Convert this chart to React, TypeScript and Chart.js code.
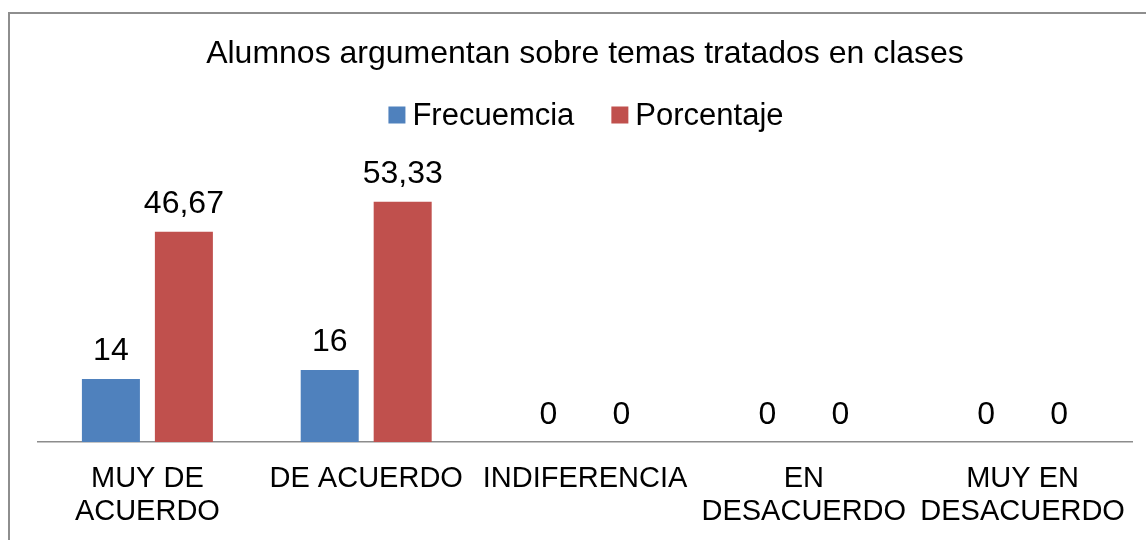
import React, { useEffect, useRef } from "react";
import { Chart, registerables } from "chart.js";

Chart.register(...registerables);

const TITLE = "Alumnos argumentan sobre temas tratados en clases";
const categories: (string | string[])[] = [
  ["MUY DE", "ACUERDO"],
  "DE ACUERDO",
  "INDIFERENCIA",
  ["EN", "DESACUERDO"],
  ["MUY EN", "DESACUERDO"],
];
const frecuencia = [14, 16, 0, 0, 0];
const porcentaje = [46.67, 53.33, 0, 0, 0];
const seriesNames = ["Frecuemcia", "Porcentaje"];
const seriesColors = ["#4F81BD", "#C0504D"];

const FONT = "'Liberation Sans', Arial, Helvetica, sans-serif";
const TICK_FS = 29;
const TITLE_FS = 32;
const LABEL_FS = 32;
const LEGEND_FS = 31;

const fmt = (v: number) => String(v).replace(".", ",");

const labelsPlugin = {
  id: "valueLabels",
  afterDatasetsDraw(chart: any) {
    const ctx = chart.ctx;
    ctx.save();
    ctx.font = `${LABEL_FS}px ${FONT}`;
    ctx.fillStyle = "#000";
    ctx.textAlign = "center";
    ctx.textBaseline = "alphabetic";
    chart.data.datasets.forEach((ds: any, di: number) => {
      const meta = chart.getDatasetMeta(di);
      meta.data.forEach((el: any, i: number) => {
        ctx.fillText(fmt(ds.data[i]), el.x, el.y - 18.5);
      });
    });
    ctx.restore();
  },
};

const legendPlugin = {
  id: "customLegend",
  afterDraw(chart: any) {
    const ctx = chart.ctx;
    ctx.save();
    ctx.font = `${LEGEND_FS}px ${FONT}`;
    const box = 17;
    const gapText = 7;
    const gapItem = 37;
    const items = chart.data.datasets.map((ds: any) => ({
      label: ds.label,
      color: ds.backgroundColor,
      w: ctx.measureText(ds.label).width,
    }));
    const total =
      items.reduce((s: number, it: any) => s + box + gapText + it.w, 0) +
      gapItem * (items.length - 1);
    const cx = 576;
    const cy = 101;
    let x = cx - total / 2;
    ctx.textBaseline = "middle";
    ctx.textAlign = "left";
    items.forEach((it: any) => {
      ctx.fillStyle = it.color;
      ctx.fillRect(x, cy - box / 2, box, box);
      x += box + gapText;
      ctx.fillStyle = "#000";
      ctx.fillText(it.label, x, cy + 1);
      x += it.w + gapItem;
    });
    ctx.restore();
  },
};

export default function App() {
  const ref = useRef<HTMLCanvasElement>(null);
  useEffect(() => {
    if (!ref.current) return;
    const chart = new Chart(ref.current, {
      type: "bar",
      data: {
        labels: categories,
        datasets: [
          {
            label: seriesNames[0],
            data: frecuencia,
            backgroundColor: seriesColors[0],
            categoryPercentage: 0.667,
            barPercentage: 0.795,
          },
          {
            label: seriesNames[1],
            data: porcentaje,
            backgroundColor: seriesColors[1],
            categoryPercentage: 0.667,
            barPercentage: 0.795,
          },
        ],
      },
      options: {
        responsive: false,
        animation: false,
        devicePixelRatio: 1,
        layout: { padding: { left: 28, right: 28, top: 0, bottom: 0 } },
        plugins: {
          legend: { display: false },
          tooltip: { enabled: false },
          title: {
            display: true,
            text: TITLE,
            color: "#000",
            font: { family: FONT, size: TITLE_FS, weight: "normal", lineHeight: 1.2 },
            padding: { top: 20.8, bottom: 98.4 },
          },
        },
        scales: {
          x: {
            grid: { display: false, drawTicks: false, tickLength: 0 },
            border: { display: true, color: "#8c8c8c", width: 1.5 },
            ticks: {
              color: "#000",
              font: { family: FONT, size: TICK_FS, lineHeight: 1.15 },
              padding: 20,
              maxRotation: 0,
              minRotation: 0,
              autoSkip: false,
            },
            afterFit: (scale: any) => {
              scale.height = 98;
            },
          },
          y: {
            display: false,
            min: 0,
            max: 60,
          },
        },
      },
      plugins: [labelsPlugin, legendPlugin],
    });
    return () => chart.destroy();
  }, []);

  return (
    <div
      style={{
        position: "fixed",
        left: 0,
        top: 0,
        width: 1146,
        height: 540,
        overflow: "hidden",
        background: "#fff",
      }}
    >
      <div
        style={{
          position: "absolute",
          left: 8,
          top: 12,
          width: 1160,
          height: 540,
          borderLeft: "2px solid #8e8e8e",
          borderTop: "2px solid #8e8e8e",
        }}
      >
        <canvas ref={ref} width={1150} height={526} style={{ display: "block" }} />
      </div>
    </div>
  );
}
